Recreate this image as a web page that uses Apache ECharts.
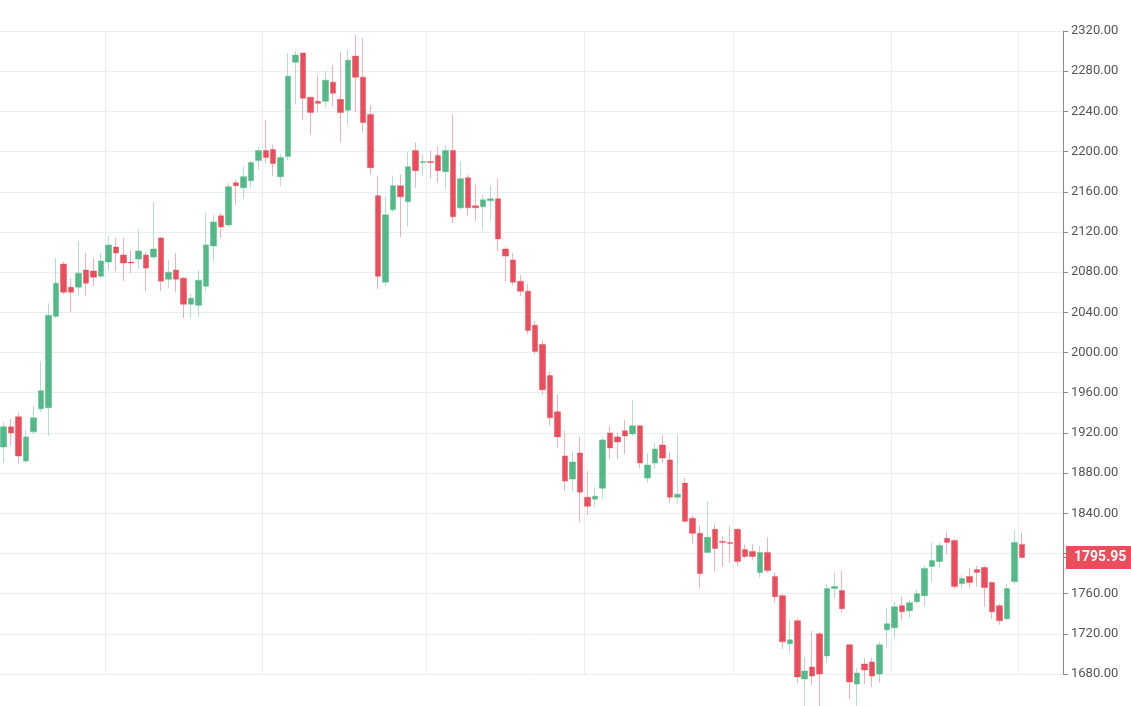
<!DOCTYPE html>
<html><head><meta charset="utf-8">
<script src="https://cdn.jsdelivr.net/npm/echarts@6/dist/echarts.min.js"></script>
<style>html,body{margin:0;padding:0;background:#fff}#c{width:1131px;height:706px}</style>
</head><body><div id="c"></div>
<script>
// [open, close, low, high]
const ohlc = [
[1906,1926,1890,1931],[1926,1920,1907,1934],[1936,1897,1890,1940],[1892,1916,1890,1923],[1921,1935,1919,1947],
[1944,1962,1941,1991],[1945,2037,1917,2049],[2036,2069,2034,2094],[2088,2060,2058,2090],[2065,2060,2040,2074],
[2065,2079,2057,2111],[2082,2069,2056,2099],[2081,2075,2066,2094],[2076,2091,2074,2099],[2090,2107,2082,2116],
[2105,2099,2081,2114],[2097,2089,2071,2114],[2090,2089,2079,2102],[2093,2101,2083,2123],[2097,2084,2061,2100],
[2095,2103,2093,2150],[2114,2071,2061,2115],[2073,2080,2064,2092],
[2082,2073,2060,2099],[2074,2048,2034,2075],[2048,2054,2034,2059],[2047,2072,2035,2082],[2066,2107,2061,2139],
[2106,2130,2091,2137],[2136,2125,2114,2139],[2127,2165,2125,2169],[2169,2166,2147,2172],[2164,2175,2153,2185],
[2171,2189,2164,2191],[2191,2201,2182,2205],[2201,2194,2188,2231],[2202,2188,2176,2207],[2175,2194,2166,2198],
[2195,2275,2191,2298],[2289,2296,2247,2300],[2298,2253,2231,2299],[2254,2239,2217,2255],[2250,2248,2239,2276],
[2250,2271,2244,2280],[2269,2258,2245,2286],[2252,2239,2209,2299],
[2241,2291,2227,2301],[2295,2274,2239,2316],[2274,2229,2219,2313],[2237,2184,2177,2246],[2156,2076,2063,2175],
[2070,2137,2066,2156],[2142,2166,2140,2176],[2166,2155,2115,2177],[2150,2185,2125,2199],[2201,2181,2164,2209],
[2189,2190,2175,2197],[2190,2189,2173,2201],[2196,2181,2169,2205],[2180,2201,2163,2206],[2201,2135,2129,2237],
[2144,2173,2142,2190],[2174,2144,2136,2177],[2146,2144,2131,2167],[2145,2152,2123,2157],[2151,2153,2131,2166],
[2153,2113,2101,2173],[2103,2096,2071,2105],[2092,2070,2067,2099],
[2071,2061,2056,2077],[2061,2022,2018,2068],[2027,2001,1998,2031],[2008,1963,1958,2012],[1977,1935,1927,1981],
[1941,1916,1905,1958],[1897,1872,1862,1922],[1874,1891,1862,1901],[1900,1861,1831,1916],[1856,1847,1838,1882],
[1854,1857,1846,1866],[1865,1913,1854,1916],[1920,1905,1894,1927],[1916,1911,1894,1920],[1922,1917,1899,1933],
[1919,1927,1917,1953],[1927,1890,1885,1928],[1875,1888,1870,1900],[1890,1904,1884,1910],[1908,1895,1890,1918],
[1893,1856,1850,1901],[1856,1859,1850,1918],[1870,1832,1831,1875],
[1835,1820,1810,1838],[1820,1780,1765,1828],[1801,1816,1801,1852],[1824,1805,1782,1829],[1812,1811,1787,1817],
[1811,1810,1791,1827],[1824,1792,1787,1825],[1804,1797,1795,1809],[1802,1797,1793,1809],[1781,1801,1776,1807],
[1801,1783,1781,1816],[1777,1757,1751,1781],[1758,1712,1705,1760],[1710,1714,1701,1734],[1733,1677,1671,1735],
[1675,1683,1640,1697],[1687,1678,1669,1723],[1720,1680,1640,1722],[1698,1765,1691,1770],[1765,1767,1755,1781],
[1763,1745,1741,1783],[1709,1672,1655,1710],
[1670,1681,1648,1686],[1690,1684,1670,1696],[1692,1678,1667,1696],[1680,1709,1671,1712],[1724,1730,1706,1746],
[1726,1747,1716,1752],[1748,1742,1733,1757],[1743,1751,1736,1754],[1752,1760,1750,1764],[1758,1785,1747,1788],
[1787,1793,1772,1811],[1792,1808,1785,1811],[1815,1811,1799,1822],[1813,1767,1765,1814],[1770,1775,1765,1779],
[1777,1771,1765,1786],[1784,1781,1767,1788],[1786,1766,1747,1788],[1771,1742,1735,1772],[1748,1733,1729,1750],
[1735,1765,1733,1770],[1772,1811,1769,1823],[1809,1795.95,1795,1821]
];
const padSlots = 5;
const categories = ohlc.map((d,i)=>String(i)).concat(Array.from({length:padSlots},(_,i)=>'p'+i));
const yTicks = {min:1680, max:2320, interval:40};
const splitIdx = new Set([14,35,57,78,98,119,136]);
const lastPrice = 1795.95;

const chart = echarts.init(document.getElementById('c'));
chart.setOption({
  animation:false,
  grid:{left:0,right:68,top:31,bottom:32},
  xAxis:{type:'category',data:categories,boundaryGap:true,
    axisLine:{show:false},axisTick:{show:false},axisLabel:{show:false},
    splitLine:{show:true,interval:(i)=>splitIdx.has(i),lineStyle:{color:'#e8eef5',width:1}}},
  yAxis:{type:'value',position:'right',min:yTicks.min,max:yTicks.max,interval:yTicks.interval,scale:true,
    axisLine:{show:true,lineStyle:{color:'#8a8a8a'}},
    axisTick:{show:true,length:5,lineStyle:{color:'#8a8a8a'}},
    axisLabel:{color:'#555',fontSize:13,fontFamily:'Roboto, sans-serif',margin:8,formatter:v=>v.toFixed(2)},
    splitLine:{lineStyle:{color:'#e8eef5'}}},
  series:[{type:'candlestick',data:ohlc,clip:false,barWidth:6,
    itemStyle:{color:'#53b987',color0:'#eb4d5c',
      borderColor:'rgba(83,185,135,0.45)',borderColor0:'rgba(235,77,92,0.45)',borderWidth:1}}]
});
const py = chart.convertToPixel({yAxisIndex:0}, lastPrice);
chart.setOption({graphic:[
  {type:'rect',shape:{x:1066,y:py-11.5,width:65,height:23},style:{fill:'#eb4d5c'},z:100},
  {type:'rect',shape:{x:1063,y:py-0.5,width:5,height:1},style:{fill:'#eb4d5c'},z:100},
  {type:'text',x:1074,y:py,style:{text:lastPrice.toFixed(2),fill:'#fff',font:'bold 14px Roboto, sans-serif',verticalAlign:'middle'},z:101}
]});
</script></body></html>
